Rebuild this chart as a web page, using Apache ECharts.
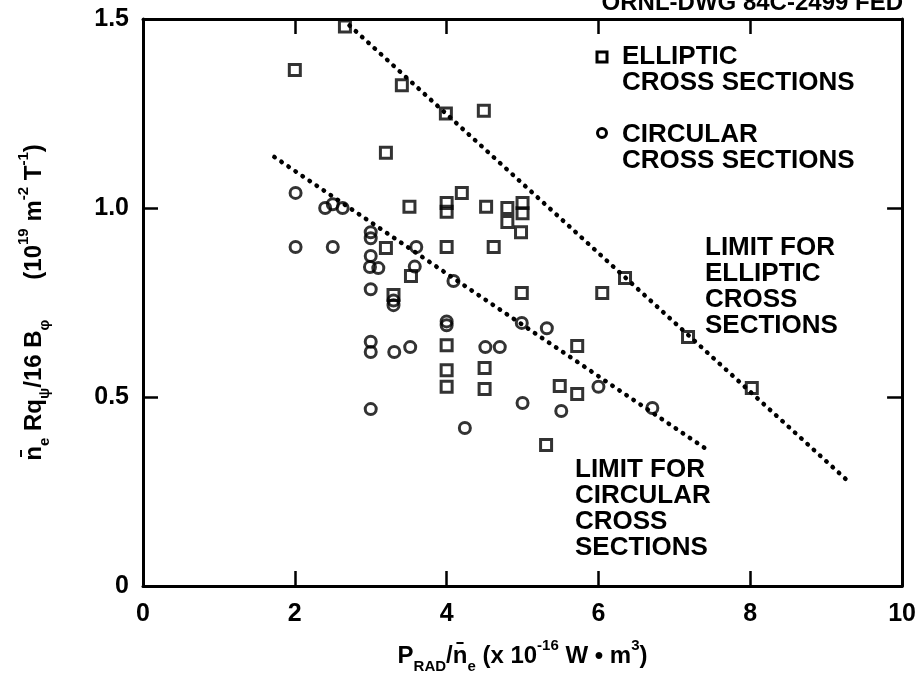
<!DOCTYPE html>
<html>
<head>
<meta charset="utf-8">
<script src="https://cdn.jsdelivr.net/npm/echarts@6/dist/echarts.min.js"></script>
<style>
html,body{margin:0;padding:0;background:#fff;}
#chart{width:919px;height:685px;}
</style>
</head>
<body>
<div id="chart"></div>
<script>
// ---- data ----
var xTicks = [0, 2, 4, 6, 8, 10];
var yTicks = [0, 0.5, 1.0, 1.5];

var ellipticX = [2.66, 2.0, 3.41, 3.99, 4.49, 3.2, 4.2, 3.51, 4.0, 4.0, 4.52, 4.8, 4.8, 5.0, 5.0, 4.98, 3.2, 4.0, 4.62, 3.53, 3.3, 4.99, 6.05, 6.35, 7.18, 4.0, 5.72, 4.0, 4.0, 4.5, 4.5, 5.49, 5.72, 5.31, 8.02];
var ellipticY = [1.48, 1.365, 1.325, 1.25, 1.257, 1.146, 1.04, 1.003, 1.013, 0.99, 1.003, 1.0, 0.963, 1.013, 0.986, 0.936, 0.894, 0.897, 0.897, 0.82, 0.77, 0.775, 0.775, 0.815, 0.659, 0.637, 0.635, 0.571, 0.527, 0.577, 0.521, 0.529, 0.508, 0.373, 0.524];

var circularX = [2.01, 2.4, 2.5, 2.63, 2.01, 2.5, 3.0, 3.0, 3.0, 2.99, 3.1, 3.0, 3.3, 3.3, 3.6, 3.58, 4.09, 4.0, 4.0, 3.0, 3.0, 3.31, 3.52, 3.0, 4.99, 5.32, 4.51, 4.70, 5.0, 6.0, 5.51, 4.24, 6.71];
var circularY = [1.04, 1.0, 1.01, 1.0, 0.897, 0.897, 0.936, 0.92, 0.873, 0.844, 0.841, 0.785, 0.755, 0.743, 0.897, 0.845, 0.807, 0.70, 0.69, 0.646, 0.619, 0.619, 0.632, 0.468, 0.696, 0.682, 0.632, 0.632, 0.484, 0.527, 0.463, 0.418, 0.471];

var ellipticLimitX = [2.72, 9.29];
var ellipticLimitY = [1.483, 0.277];
var circularLimitX = [1.73, 7.4];
var circularLimitY = [1.135, 0.365];

function zip(a, b) { return a.map(function (v, i) { return [v, b[i]]; }); }

var FONT = 'Liberation Sans';
var chart = echarts.init(document.getElementById('chart'), null, {renderer: 'canvas'});

var richTitle = {
  m:   {fontSize: 24, fontWeight: 'bold', fontFamily: FONT, color: '#000', lineHeight: 36},
  sub: {fontSize: 15, fontWeight: 'bold', fontFamily: FONT, color: '#000', lineHeight: 15, verticalAlign: 'bottom'},
  sup: {fontSize: 15, fontWeight: 'bold', fontFamily: FONT, color: '#000', lineHeight: 15, verticalAlign: 'top'}
};

var axisCommon = {
  type: 'value',
  axisLine: {show: true, onZero: false, lineStyle: {color: '#000', width: 3}},
  axisTick: {show: true, inside: true, length: 15, lineStyle: {color: '#000', width: 2.5}},
  splitLine: {show: false}
};

var symStyle = {color: 'rgba(0,0,0,0)', borderColor: '#000', borderWidth: 3};
var dotLine = {color: '#000', width: 4.5, type: [0.5, 8], cap: 'round'};
var txt = {fill: '#000', font: 'bold 26px "Liberation Sans"', lineHeight: 26};

chart.setOption({
  animation: false,
  backgroundColor: '#fff',
  grid: {left: 143, right: 16, top: 19, bottom: 99},
  xAxis: [
    Object.assign({}, axisCommon, {
      position: 'bottom', min: xTicks[0], max: xTicks[xTicks.length - 1], interval: 2,
      axisLabel: {show: true, margin: 16, color: '#000', fontSize: 25, fontWeight: 'bold', fontFamily: FONT},
      name: '{m|P}{sub|RAD}{m|/n\u0304}{sub|e}{m| (x 10}{sup|-16}{m| W \u2022 m}{sup|3}{m|)}',
      nameLocation: 'middle', nameGap: 52,
      nameTextStyle: {rich: richTitle}
    }),
    Object.assign({}, axisCommon, {
      position: 'top', min: xTicks[0], max: xTicks[xTicks.length - 1], interval: 2,
      axisLabel: {show: false}
    })
  ],
  yAxis: [
    Object.assign({}, axisCommon, {
      position: 'left', min: yTicks[0], max: yTicks[yTicks.length - 1], interval: 0.5,
      axisLabel: {show: true, margin: 14, color: '#000', fontSize: 25, fontWeight: 'bold', fontFamily: FONT,
        formatter: function (v) { return v === 0 ? '0' : v.toFixed(1); }},
      name: '{m|n\u0304}{sub|e}{m| Rq}{sub|\u03c8}{m|/16 B}{sub|\u03c6}{m|      (10}{sup|19}{m| m}{sup|-2}{m| T}{sup|-1}{m|)}',
      nameLocation: 'middle', nameGap: 91, nameRotate: 90,
      nameTextStyle: {rich: richTitle}
    }),
    Object.assign({}, axisCommon, {
      position: 'right', min: yTicks[0], max: yTicks[yTicks.length - 1], interval: 0.5,
      axisLabel: {show: false}
    })
  ],
  series: [
    {name: 'ELLIPTIC CROSS SECTIONS', type: 'scatter', symbol: 'rect', symbolSize: 11,
     itemStyle: symStyle, data: zip(ellipticX, ellipticY), z: 3},
    {name: 'CIRCULAR CROSS SECTIONS', type: 'scatter', symbol: 'circle', symbolSize: 11,
     itemStyle: symStyle, data: zip(circularX, circularY), z: 3},
    {name: 'LIMIT FOR ELLIPTIC', type: 'line', symbol: 'none', lineStyle: dotLine,
     data: zip(ellipticLimitX, ellipticLimitY), z: 2},
    {name: 'LIMIT FOR CIRCULAR', type: 'line', symbol: 'none', lineStyle: dotLine,
     data: zip(circularLimitX, circularLimitY), z: 2}
  ],
  graphic: [
    {type: 'text', right: 16, top: -9, style: {text: 'ORNL-DWG 84C-2499 FED', fill: '#000', font: 'bold 24px "Liberation Sans"'}},
    {type: 'rect', shape: {x: 597, y: 52, width: 10, height: 10}, style: {fill: 'none', stroke: '#000', lineWidth: 3}},
    {type: 'text', x: 622, y: 44, style: Object.assign({text: 'ELLIPTIC\nCROSS SECTIONS'}, txt)},
    {type: 'circle', shape: {cx: 602, cy: 133, r: 4.5}, style: {fill: 'none', stroke: '#000', lineWidth: 3}},
    {type: 'text', x: 622, y: 122, style: Object.assign({text: 'CIRCULAR\nCROSS SECTIONS'}, txt)},
    {type: 'text', x: 705, y: 235, style: Object.assign({text: 'LIMIT FOR\nELLIPTIC\nCROSS\nSECTIONS'}, txt)},
    {type: 'text', x: 575, y: 457, style: Object.assign({text: 'LIMIT FOR\nCIRCULAR\nCROSS\nSECTIONS'}, txt)}
  ]
});
</script>
</body>
</html>
